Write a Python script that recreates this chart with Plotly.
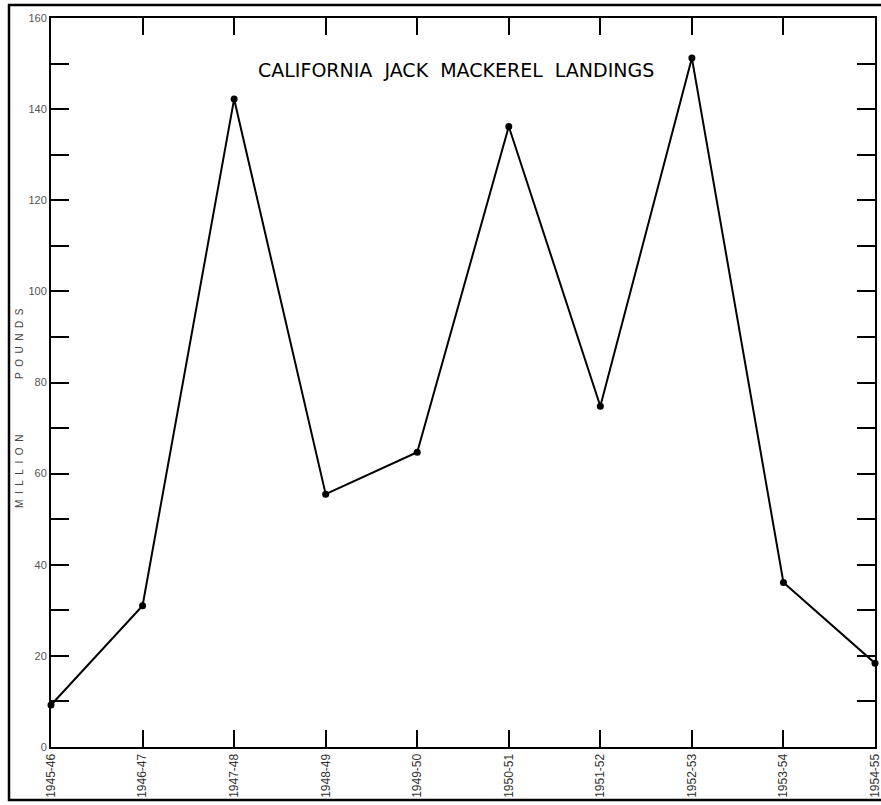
import plotly.graph_objects as go

seasons = ["1945-46", "1946-47", "1947-48", "1948-49", "1949-50",
           "1950-51", "1951-52", "1952-53", "1953-54", "1954-55"]
landings = [9.2, 31.0, 142.2, 55.5, 64.7, 136.2, 74.8, 151.2, 36.1, 18.4]
y_ticks = [0, 20, 40, 60, 80, 100, 120, 140, 160]

fig = go.Figure()
fig.add_trace(go.Scatter(
    x=seasons, y=landings, mode="lines+markers",
    line=dict(color="black", width=2),
    marker=dict(color="black", size=7),
    cliponaxis=False, showlegend=False,
))

L, R, T, B = 51, 6, 18, 58
W, H = 881, 805
pw, ph = W - L - R, H - T - B

sp = "\u00a0\u00a0"
ylab = sp.join("MILLION") + "\u00a0" * 20 + sp.join("POUNDS")

fig.update_layout(
    width=W, height=H,
    margin=dict(l=L, r=R, t=T, b=B, autoexpand=False),
    paper_bgcolor="white", plot_bgcolor="white",
    font=dict(family="Liberation Sans, Arial, sans-serif", color="#333"),
    xaxis=dict(
        type="category", range=[0, len(seasons) - 1], automargin=False,
        showgrid=False, zeroline=False,
        showline=True, linecolor="black", linewidth=2, mirror="ticks",
        ticks="inside", ticklen=17, tickwidth=2, tickcolor="black",
        tickangle=-90, tickfont=dict(size=12, color="#333"),
    ),
    yaxis=dict(
        range=[0, 160], tickvals=y_ticks, automargin=False,
        showgrid=False, zeroline=False,
        showline=True, linecolor="black", linewidth=2, mirror="ticks",
        ticks="inside", ticklen=18, tickwidth=2, tickcolor="black",
        tickfont=dict(size=11, color="#555"),
        minor=dict(dtick=10, ticks="inside", ticklen=18, tickwidth=2, tickcolor="black"),
    ),
    annotations=[
        dict(text="CALIFORNIA  JACK  MACKEREL  LANDINGS", xref="paper", yref="paper",
             x=(456 - L) / pw, y=1 - (70 - T) / ph, xanchor="center", yanchor="middle",
             showarrow=False,
             font=dict(size=19, color="black", family="DejaVu Sans, sans-serif")),
        dict(text=ylab, xref="paper", yref="paper",
             x=(19 - L) / pw, y=1 - (408 - T) / ph, xanchor="center", yanchor="middle",
             textangle=-90, showarrow=False,
             font=dict(size=10, color="#444")),
    ],
    shapes=[
        dict(type="rect", xref="paper", yref="paper",
             x0=(9 - L) / pw, x1=1.05, y0=-(800 - (H - B)) / ph, y1=1 + (T - 5) / ph,
             line=dict(color="black", width=2.5)),
    ],
)

fig.write_html("out.html", config={"displayModeBar": False},
               post_script="document.body.style.margin='0';document.body.style.overflow='hidden';")
